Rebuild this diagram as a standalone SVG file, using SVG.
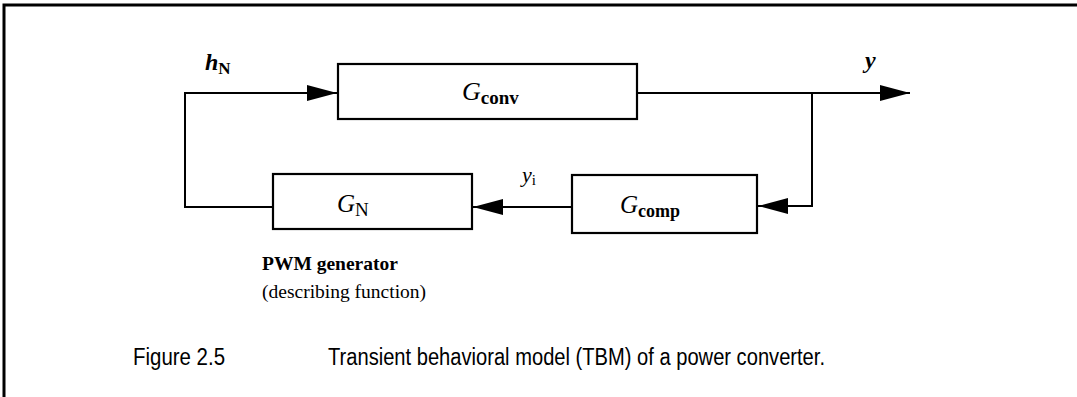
<svg xmlns="http://www.w3.org/2000/svg" width="1077" height="397" viewBox="0 0 1077 397">
  <style>
    .blk { fill: #fff; stroke: #000; stroke-width: 2.2; }
    .wire { fill: none; stroke: #000; stroke-width: 2; }
    .sym { font-family: "Liberation Serif", "Times New Roman", serif; font-style: italic; fill: #000; }
    .sub { font-style: normal; }
    .note { font-family: "Liberation Serif", "Times New Roman", serif; font-size: 19.5px; fill: #000; }
    .cap { font-family: "Liberation Sans", Arial, sans-serif; font-size: 23px; fill: #000; }
  </style>
  <defs>
    <marker id="arr" markerWidth="30" markerHeight="16" refX="30" refY="8" orient="auto" markerUnits="userSpaceOnUse">
      <path d="M0,0 L30,8 L0,16 Z" fill="#000"/>
    </marker>
  </defs>
  <rect width="1077" height="397" fill="#fff"/>
  <!-- page frame -->
  <path d="M4,397 L4,5 L1077,5" fill="none" stroke="#000" stroke-width="3"/>

  <g id="connectors">
    <path class="wire" d="M273,207 L185,207 L185,93 L337,93" marker-end="url(#arr)"/>
    <path class="wire" d="M637,93 L910,93" marker-end="url(#arr)"/>
    <path class="wire" d="M812,93 L812,206 L758,206" marker-end="url(#arr)"/>
    <path class="wire" d="M572,207 L473,207" marker-end="url(#arr)"/>
  </g>

  <g id="node-gconv">
    <rect class="blk" x="338" y="64" width="299" height="55"/>
    <text class="sym" x="462" y="100" font-size="26">G<tspan class="sub" font-size="19" font-weight="bold" dy="4">conv</tspan></text>
  </g>

  <g id="node-gcomp">
    <rect class="blk" x="572" y="175" width="185" height="58"/>
    <text class="sym" x="620" y="213" font-size="25">G<tspan class="sub" font-size="18" font-weight="bold" dy="4">comp</tspan></text>
  </g>

  <g id="node-gn">
    <rect class="blk" x="273" y="174" width="199" height="55"/>
    <text class="sym" x="337" y="212" font-size="25">G<tspan class="sub" font-size="19" dy="4">N</tspan></text>
    <text class="note" x="262" y="270" font-weight="bold">PWM generator</text>
    <text class="note" x="262" y="298">(describing function)</text>
  </g>

  <g id="labels">
    <text class="sym" x="205" y="70" font-size="24" font-weight="bold">h<tspan class="sub" font-size="17" dy="4">N</tspan></text>
    <text class="sym" x="865" y="68" font-size="24" font-weight="bold">y</text>
    <text class="sym" x="522" y="182" font-size="22">y<tspan class="sub" font-size="15" dy="3">i</tspan></text>
  </g>

  <text class="cap" x="133" y="365" textLength="92" lengthAdjust="spacingAndGlyphs">Figure 2.5</text>
  <text class="cap" x="328" y="365" textLength="497" lengthAdjust="spacingAndGlyphs">Transient behavioral model (TBM) of a power converter.</text>
</svg>
